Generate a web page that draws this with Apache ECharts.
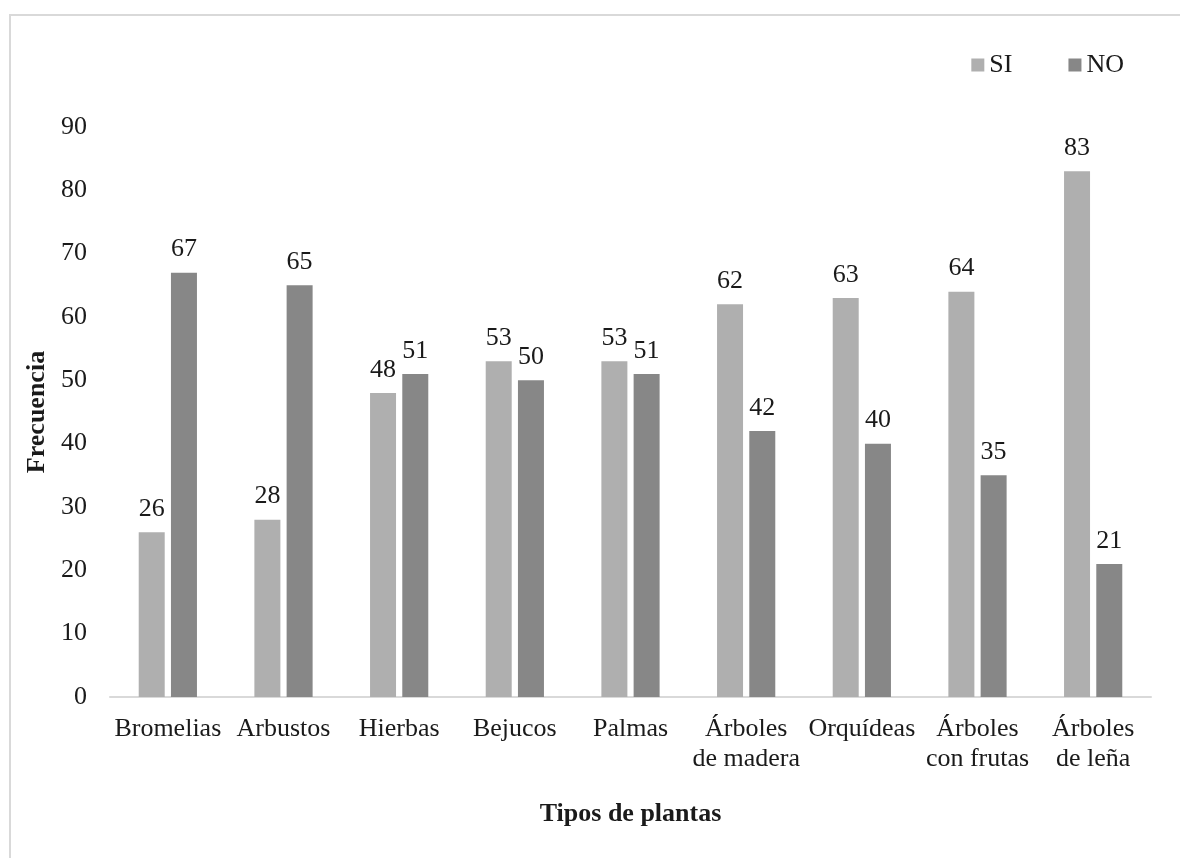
<!DOCTYPE html>
<html>
<head>
<meta charset="utf-8">
<script src="https://cdn.jsdelivr.net/npm/echarts@6/dist/echarts.min.js"></script>
<style>
  html, body { margin: 0; padding: 0; background: #ffffff; }
  #frame { position: absolute; left: 9px; top: 14px; width: 1200px; height: 900px;
           border-left: 2px solid #d9d9d9; border-top: 2px solid #d9d9d9; }
  #chart { position: absolute; left: 0; top: 0; width: 1180px; height: 858px; }
</style>
</head>
<body>
<div id="frame"></div>
<div id="chart"></div>
<script>
const categories = ['Bromelias', 'Arbustos', 'Hierbas', 'Bejucos', 'Palmas',
  'Árboles\nde madera', 'Orquídeas', 'Árboles\ncon frutas', 'Árboles\nde leña'];
const siValues = [26, 28, 48, 53, 53, 62, 63, 64, 83];
const noValues = [67, 65, 51, 50, 51, 42, 40, 35, 21];
const yTicks = { min: 0, max: 90, interval: 10 };

const FONT = '"Liberation Serif", "Times New Roman", serif';
const chart = echarts.init(document.getElementById('chart'), null, { renderer: 'canvas' });
const labelStyle = { show: true, position: 'top', distance: 10, color: '#1a1a1a',
  fontFamily: FONT, fontSize: 26 };
chart.setOption({
  animation: false,
  backgroundColor: 'transparent',
  textStyle: { fontFamily: FONT },
  legend: {
    right: 56, top: 52, padding: 0, itemWidth: 13, itemHeight: 13, itemGap: 56,
    icon: 'rect',
    textStyle: { fontFamily: FONT, fontSize: 26, color: '#1a1a1a' },
    data: ['SI', 'NO']
  },
  grid: { left: 110, right: 29, top: 127, bottom: 161, containLabel: false },
  xAxis: {
    type: 'category', data: categories,
    name: 'Tipos de plantas', nameLocation: 'middle', nameGap: 104,
    nameTextStyle: { fontFamily: FONT, fontSize: 26, fontWeight: 'bold', color: '#1a1a1a' },
    axisLine: { lineStyle: { color: '#d9d9d9', width: 2 } },
    axisTick: { show: false },
    axisLabel: { interval: 0, margin: 17, fontFamily: FONT, fontSize: 26, lineHeight: 30,
      color: '#1a1a1a' }
  },
  yAxis: {
    type: 'value', min: yTicks.min, max: yTicks.max, interval: yTicks.interval,
    name: 'Frecuencia', nameLocation: 'middle', nameGap: 60,
    nameTextStyle: { fontFamily: FONT, fontSize: 26, fontWeight: 'bold', color: '#1a1a1a' },
    axisLine: { show: false }, axisTick: { show: false },
    splitLine: { show: false },
    axisLabel: { margin: 23, fontFamily: FONT, fontSize: 26, color: '#1a1a1a' }
  },
  series: [
    { name: 'SI', type: 'bar', data: siValues, barWidth: 26, barGap: '24%',
      itemStyle: { color: '#afafaf' }, label: labelStyle },
    { name: 'NO', type: 'bar', data: noValues, barWidth: 26,
      itemStyle: { color: '#878787' }, label: labelStyle }
  ]
});
</script>
</body>
</html>
